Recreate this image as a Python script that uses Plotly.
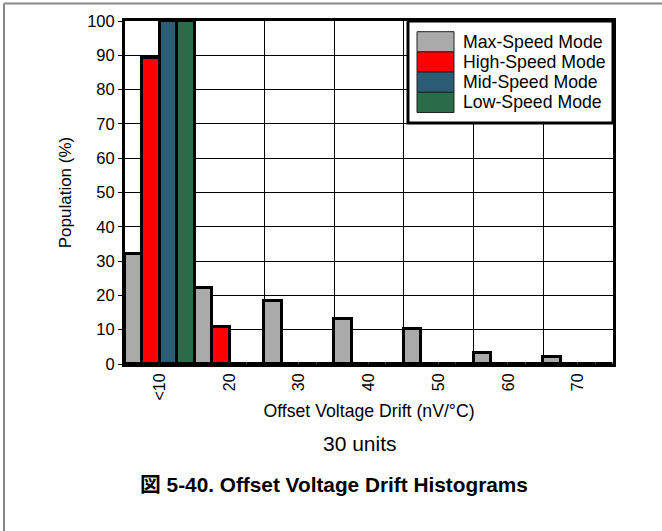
import plotly.graph_objects as go

categories = ["<10", "20", "30", "40", "50", "60", "70"]
max_speed = [32.0, 22.2, 18.4, 13.0, 10.1, 3.1, 1.9]
high_speed = [89.3, 10.9, 0, 0, 0, 0, 0]
mid_speed = [100.0, 0, 0, 0, 0, 0, 0]
low_speed = [100.0, 0, 0, 0, 0, 0, 0]
series_names = ["Max-Speed Mode", "High-Speed Mode", "Mid-Speed Mode", "Low-Speed Mode"]
series_values = [max_speed, high_speed, mid_speed, low_speed]
y_ticks = list(range(0, 101, 10))

colors = ["#AAAAAA", "#FF0000", "#2B5E76", "#2A6B4A"]
FONT = "Arial, Liberation Sans, Noto Sans CJK JP, sans-serif"

W, H = 662, 531
L, R, T, B = 125, 49, 21, 167
pw, ph = W - L - R, H - T - B


def px_x(px):
    return (px - L) / pw


def px_y(py):
    return (H - B - py) / ph


fig = go.Figure()
for name, vals, col in zip(series_names, series_values, colors):
    fig.add_trace(go.Bar(
        x=categories, y=vals, name=name,
        marker=dict(color=col, line=dict(color="black", width=3)),
        showlegend=False,
    ))

shapes = []
annotations = []

# custom legend box
shapes.append(dict(type="rect", xref="paper", yref="paper",
                   x0=px_x(408), x1=1.0, y0=px_y(123), y1=1.0,
                   line=dict(color="black", width=3), fillcolor="white", layer="above"))
row_top = 31.7
row_h = 20.2
for i, (name, col) in enumerate(zip(series_names, colors)):
    t = row_top + i * row_h
    shapes.append(dict(type="rect", xref="paper", yref="paper",
                       x0=px_x(417), x1=px_x(454), y0=px_y(t + row_h), y1=px_y(t),
                       line=dict(color="#222222", width=1), fillcolor=col, layer="above"))
    annotations.append(dict(xref="paper", yref="paper", x=px_x(461), y=px_y(t + row_h / 2),
                            text=name, showarrow=False, xanchor="left", yanchor="middle",
                            font=dict(family=FONT, size=17.7, color="black")))

# outer frame (top and left)
shapes.append(dict(type="line", xref="paper", yref="paper",
                   x0=px_x(4), x1=px_x(W), y0=px_y(3.5), y1=px_y(3.5),
                   line=dict(color="#888888", width=2)))
shapes.append(dict(type="line", xref="paper", yref="paper",
                   x0=px_x(4), x1=px_x(4), y0=px_y(3.5), y1=px_y(H),
                   line=dict(color="#888888", width=2)))

annotations.append(dict(xref="paper", yref="paper", x=px_x(360), y=px_y(443),
                        text="30 units", showarrow=False, xanchor="center", yanchor="middle",
                        font=dict(family=FONT, size=21, color="black")))
annotations.append(dict(xref="paper", yref="paper", x=px_x(334), y=px_y(485),
                        text="<b>図 5-40. Offset Voltage Drift Histograms</b>", showarrow=False,
                        xanchor="center", yanchor="middle",
                        font=dict(family=FONT, size=20.8, color="black")))

fig.update_layout(
    width=W, height=H, autosize=False,
    margin=dict(l=L, r=R, t=T, b=B, pad=0),
    paper_bgcolor="white", plot_bgcolor="white",
    barmode="group", bargap=0, bargroupgap=0,
    font=dict(family=FONT, size=16, color="black"),
    shapes=shapes, annotations=annotations,
    showlegend=False,
)
fig.update_xaxes(
    type="category", tickson="boundaries", showgrid=True, gridcolor="black", gridwidth=1,
    ticks="outside", ticklen=6, tickcolor="rgba(0,0,0,0)", tickangle=-90,
    tickfont=dict(family=FONT, size=16, color="black"),
    showline=True, linecolor="black", linewidth=3, mirror=True,
    title=dict(text="Offset Voltage Drift (nV/°C)", standoff=6,
               font=dict(family=FONT, size=17.7, color="black")),
)
fig.update_yaxes(
    range=[0, 100], tickvals=y_ticks, showgrid=True, gridcolor="black", gridwidth=1,
    zeroline=False, ticks="outside", ticklen=4, tickcolor="black",
    tickfont=dict(family=FONT, size=16.5, color="black"),
    showline=True, linecolor="black", linewidth=3, mirror=True,
    title=dict(text="Population (%)", standoff=12,
               font=dict(family=FONT, size=17, color="black")),
)

fig.write_html("out.html", post_script="document.body.style.margin='0';",
               config={"displayModeBar": False})
